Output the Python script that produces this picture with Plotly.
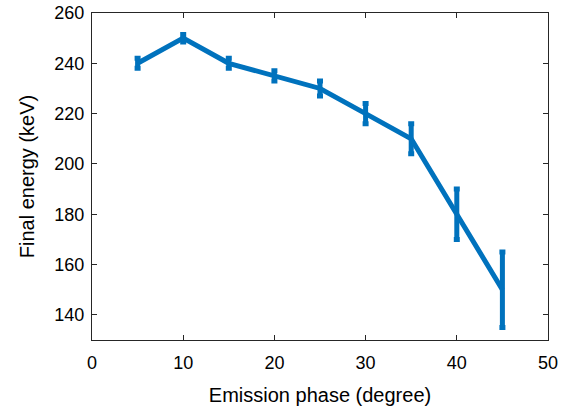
import plotly.graph_objects as go

# Emission phase (degree) vs. final electron energy (keV)
phase = [5, 10, 15, 20, 25, 30, 35, 40, 45]
energy = [240, 250, 240, 235, 230, 220, 210, 180, 150]
energy_err = [2, 1.5, 2, 2, 3, 4, 6, 10, 15]

x_ticks = [0, 10, 20, 30, 40, 50]
y_ticks = [140, 160, 180, 200, 220, 240, 260]

blue = "#0072BD"
axis_col = "#262626"
font = "Liberation Sans, Arial, sans-serif"

fig = go.Figure(
    go.Scatter(
        x=phase,
        y=energy,
        mode="lines",
        line=dict(color=blue, width=5),
        error_y=dict(type="data", array=energy_err, visible=True,
                     color=blue, thickness=5, width=3),
    )
)

axis_common = dict(
    showgrid=False, zeroline=False, showline=True, mirror="ticks",
    linecolor=axis_col, linewidth=1, ticks="inside", ticklen=5,
    tickcolor=axis_col, tickwidth=1, automargin=False,
    tickfont=dict(family=font, size=18, color="#000"),
)

fig.update_layout(
    width=572, height=414,
    margin=dict(l=92, r=24, t=13, b=74),
    plot_bgcolor="white", paper_bgcolor="white",
    showlegend=False,
    xaxis=dict(range=[0, 50], tickvals=x_ticks, ticklabelstandoff=6,
               title=dict(text="Emission phase (degree)",
                          font=dict(family=font, size=20, color="#000"), standoff=16),
               **axis_common),
    yaxis=dict(range=[130, 260], tickvals=y_ticks, ticklabelstandoff=3,
               title=dict(text="Final energy (keV)",
                          font=dict(family=font, size=20, color="#000"), standoff=14),
               **axis_common),
)

fig.write_html("out.html")
